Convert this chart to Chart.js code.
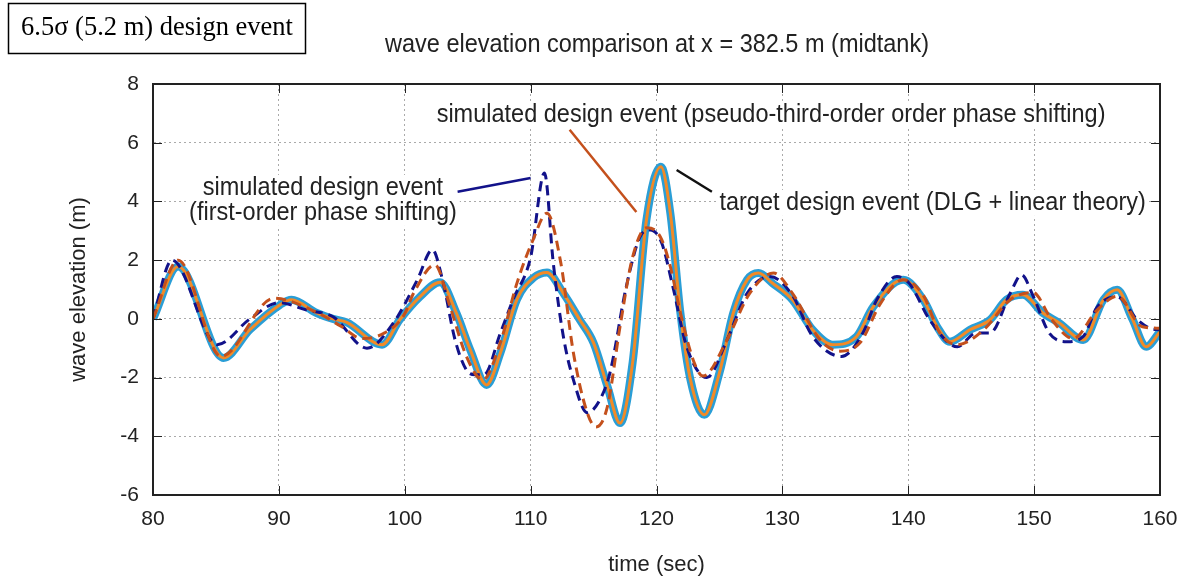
<!doctype html>
<html lang="en">
<head>
<meta charset="utf-8" />
<title>wave elevation comparison</title>
<script src="https://cdn.jsdelivr.net/npm/chart.js"></script>
<style>
  body{margin:0;background:#fff}
  .wrap{position:relative;width:1184px;height:578px}
  #c{display:block}
</style>
</head>
<body>
<div class="wrap"><canvas id="c" width="1184" height="578"></canvas></div>
<script>
// values (time in sec, elevation in m)
const targetTime = [80, 82.0, 85.6, 87.7, 90.1, 91.0, 93.0, 94.3, 95.4, 98.2, 99.6, 101.2, 102.8, 104.1, 105.2, 106.5, 107.6, 108.9, 110.2, 111.3, 112.6, 113.9, 115.0, 116.1, 117.1, 118.1, 119.2, 120.35, 121.1, 121.9, 122.7, 123.8, 125.0, 126.1, 127.2, 128.1, 129.2, 130.8, 132.4, 134.0, 135.9, 137.2, 139.6, 141.2, 142.3, 143.3, 144.9, 146.5, 147.8, 149.1, 150.7, 152.0, 153.9, 155.5, 156.6, 157.8, 158.9, 160];
const targetElev = [0.0, 1.78, -1.33, -0.37, 0.48, 0.65, 0.2, 0.0, -0.12, -0.88, -0.03, 0.75, 1.25, 0.2, -1.05, -2.25, -1.16, 0.65, 1.39, 1.58, 0.87, -0.03, -0.82, -2.3, -3.55, -1.5, 3.37, 5.18, 3.6, 0.2, -2.08, -3.27, -1.84, 0.2, 1.33, 1.56, 1.22, 0.65, -0.37, -0.88, -0.6, 0.4, 1.33, 0.65, -0.27, -0.78, -0.37, -0.03, 0.65, 0.82, 0.2, -0.14, -0.72, 0.65, 0.99, 0.0, -0.95, -0.44];

const firstTime = [80, 81.5, 85.1, 87.7, 90.0, 92.2, 94.3, 97.0, 99.1, 101.0, 102.2, 103.0, 104.0, 104.9, 105.6, 106.3, 107.6, 108.6, 110.0, 111.1, 111.8, 112.6, 113.4, 114.5, 115.5, 116.3, 117.6, 118.7, 119.5, 120.4, 121.3, 122.4, 124.0, 125.6, 127.2, 129.0, 130.8, 132.4, 134.7, 136.4, 137.5, 139.1, 140.1, 141.7, 143.9, 145.4, 146.5, 148.1, 149.0, 149.9, 151.2, 152.6, 153.9, 155.0, 156.6, 158.2, 159.2, 160];
const firstElev = [0.0, 2.0, -0.88, 0.0, 0.55, 0.3, 0.07, -1.0, -0.14, 1.33, 2.35, 1.33, -0.72, -1.74, -1.9, -1.9, -0.48, 0.65, 2.1, 4.97, 1.9, -0.6, -2.08, -3.2, -2.76, -1.84, 1.1, 2.8, 3.03, 2.6, 1.1, -0.95, -2.0, -0.72, 0.87, 1.44, 0.8, -0.6, -1.28, -0.48, 0.65, 1.44, 1.2, -0.03, -0.95, -0.48, -0.48, 0.87, 1.5, 0.8, -0.48, -0.78, -0.6, 0.4, 0.75, -0.03, -0.32, -0.37];

const thirdTime = [80, 82.0, 85.4, 89.6, 93.1, 95.0, 96.6, 98.3, 99.9, 100.7, 102.4, 103.6, 104.9, 106.2, 107.6, 108.9, 110.2, 111.3, 112.4, 113.4, 114.5, 115.2, 116.1, 117.1, 118.1, 119.2, 120.3, 121.1, 121.9, 123.0, 123.7, 125.6, 127.4, 129.3, 130.8, 133.0, 134.6, 136.2, 137.8, 139.6, 141.2, 142.5, 143.9, 146.0, 148.1, 149.9, 151.4, 153.1, 155.0, 156.6, 158.6, 160];
const thirdElev = [0.0, 2.0, -1.28, 0.7, 0.2, -0.27, -0.67, -0.5, 0.1, 0.87, 1.84, 0.42, -1.28, -2.08, -0.8, 1.2, 2.7, 3.6, 1.9, -1.16, -3.2, -3.68, -2.99, -0.27, 2.1, 3.1, 2.8, 1.78, 0.2, -1.5, -1.95, -0.72, 0.87, 1.56, 0.87, -0.72, -1.1, -0.8, 0.53, 1.33, 0.8, -0.48, -0.88, -0.37, 0.65, 0.9, -0.03, -0.67, 0.3, 0.77, -0.27, -0.32];

const xTicks = [80, 90, 100, 110, 120, 130, 140, 150, 160];
const yTicks = [-6, -4, -2, 0, 2, 4, 6, 8];

const chartTitle = 'wave elevation comparison at x = 382.5 m (midtank)';
const boxLabel = '6.5\u03c3 (5.2 m) design event';

const SANS = '"Liberation Sans", Arial, sans-serif';

function pts(t, v){ return t.map((x,i)=>({x:x, y:v[i]})); }

// text labels with leader lines, in data coords
const notes = [
  {lines:['simulated design event','(first-order phase shifting)'], x:93.5, y:4.46, align:'center', color:'#12128a', lead:[[104.2,4.33],[110.0,4.8]]},
  {lines:['simulated design event (pseudo-third-order order phase shifting)'], x:129.1, y:6.95, align:'center', color:'#c4501c', lead:[[113.1,6.44],[118.4,3.64]]},
  {lines:['target design event (DLG + linear theory)'], x:125.0, y:3.95, align:'left', color:'#111', lead:[[121.6,5.07],[124.4,4.33]]}
];

// gnuplot-like text: a bit taller than wide
function tallText(c, s, x, y, sy){
  c.save();
  c.translate(x, y); c.scale(1, sy);
  c.fillText(s, 0, 0);
  c.restore();
}

const decor = {
  id:'decor',
  beforeDatasetsDraw(chart){
    const c = chart.ctx, xs = chart.scales.x, ys = chart.scales.y;
    // white boxes behind notes hide the grid
    c.save();
    c.font = '23.5px ' + SANS;
    c.fillStyle = '#fff';
    notes.forEach(n=>{
      const px = xs.getPixelForValue(n.x), py = ys.getPixelForValue(n.y);
      n.lines.forEach((s,i)=>{
        const w = c.measureText(s).width;
        const x0 = n.align === 'center' ? px - w/2 : px;
        c.fillRect(x0 - 3, py + i*25 - 13, w + 6, 26);
      });
    });
    c.restore();
  },
  afterDraw(chart){
    const c = chart.ctx, a = chart.chartArea, xs = chart.scales.x, ys = chart.scales.y;
    c.save();
    // frame
    c.strokeStyle = '#222'; c.lineWidth = 2;
    c.strokeRect(a.left, a.top, a.right - a.left, a.bottom - a.top);
    // box label
    c.strokeStyle = '#000'; c.lineWidth = 1.5;
    c.strokeRect(8.5, 3.5, 297, 50);
    c.fillStyle = '#000';
    c.font = '26.5px "Liberation Serif", serif';
    c.textAlign = 'center'; c.textBaseline = 'middle';
    tallText(c, boxLabel, 157, 28, 1.06);
    // title
    c.fillStyle = '#222';
    c.font = '23.5px ' + SANS;
    tallText(c, chartTitle, 657, 45, 1.08);
    // mirror ticks
    c.strokeStyle = '#222'; c.lineWidth = 1;
    c.beginPath();
    yTicks.forEach(v=>{
      const y = Math.round(ys.getPixelForValue(v)) + 0.5;
      c.moveTo(a.left, y); c.lineTo(a.left + 9, y);
      c.moveTo(a.right, y); c.lineTo(a.right - 9, y);
    });
    xTicks.forEach(v=>{
      const x = Math.round(xs.getPixelForValue(v)) + 0.5;
      c.moveTo(x, a.bottom); c.lineTo(x, a.bottom - 9);
      c.moveTo(x, a.top); c.lineTo(x, a.top + 9);
    });
    c.stroke();
    // notes
    c.font = '23.5px ' + SANS;
    notes.forEach(n=>{
      c.strokeStyle = n.color; c.lineWidth = 2.5;
      c.beginPath();
      c.moveTo(xs.getPixelForValue(n.lead[0][0]), ys.getPixelForValue(n.lead[0][1]));
      c.lineTo(xs.getPixelForValue(n.lead[1][0]), ys.getPixelForValue(n.lead[1][1]));
      c.stroke();
      c.fillStyle = '#222';
      c.textAlign = n.align; c.textBaseline = 'middle';
      const px = xs.getPixelForValue(n.x), py = ys.getPixelForValue(n.y);
      n.lines.forEach((s,i)=>tallText(c, s, px, py + i*25, 1.1));
    });
    c.restore();
  }
};

new Chart(document.getElementById('c'), {
  type:'line',
  data:{datasets:[
    {label:'target', data:pts(targetTime,targetElev), borderColor:'#2a9ed6', borderWidth:8, order:4},
    {label:'target core', data:pts(targetTime,targetElev), borderColor:'#f28a26', borderWidth:3, order:3},
    {label:'first-order', data:pts(firstTime,firstElev), borderColor:'#12128a', borderWidth:3, borderDash:[10,6], order:2},
    {label:'pseudo-third-order', data:pts(thirdTime,thirdElev), borderColor:'#c4501c', borderWidth:3, borderDash:[10,6], order:1}
  ]},
  options:{
    responsive:false, animation:false,
    layout:{padding:{top:84, right:24, left:66, bottom:0}},
    elements:{point:{radius:0}, line:{cubicInterpolationMode:'monotone', fill:false}},
    plugins:{legend:{display:false}, tooltip:{enabled:false}},
    scales:{
      x:{type:'linear', min:80, max:160,
        afterBuildTicks(s){ s.ticks = xTicks.map(v=>({value:v})); },
        afterFit(s){ s.height = 83; s.paddingLeft = 0; s.paddingRight = 0; },
        grid:{color:'#aaa', lineWidth:1, drawTicks:false},
        border:{color:'#222', width:2, dash:[2,3]},
        ticks:{color:'#222', padding:12, font:{family:SANS, size:21}},
        title:{display:true, text:'time (sec)', color:'#222', padding:{top:4, bottom:0}, font:{family:SANS, size:22}}
      },
      y:{min:-6, max:8,
        afterBuildTicks(s){ s.ticks = yTicks.map(v=>({value:v})); },
        afterFit(s){ s.width = 87; },
        grid:{color:'#aaa', lineWidth:1, drawTicks:false},
        border:{color:'#222', width:2, dash:[2,3]},
        ticks:{color:'#222', padding:14, font:{family:SANS, size:21}},
        title:{display:true, text:'wave elevation (m)', color:'#222', padding:{top:0, bottom:0}, font:{family:SANS, size:22}}
      }
    }
  },
  plugins:[decor]
});
</script>
</body>
</html>
